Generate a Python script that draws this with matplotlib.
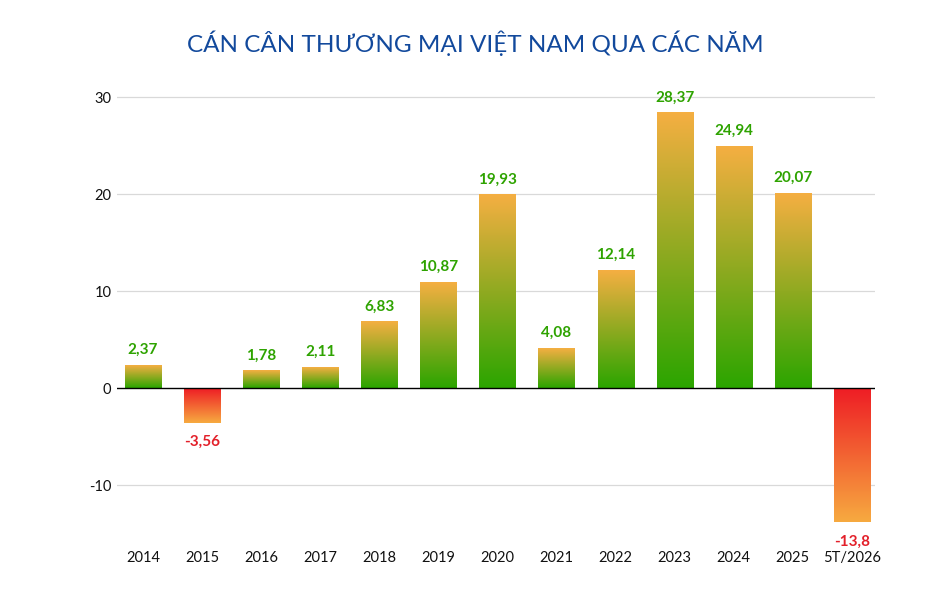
import matplotlib
matplotlib.use("Agg")
import matplotlib.pyplot as plt
import numpy as np
from matplotlib.colors import LinearSegmentedColormap

categories = ["2014", "2015", "2016", "2017", "2018", "2019", "2020", "2021",
              "2022", "2023", "2024", "2025", "5T/2026"]
values = [2.37, -3.56, 1.78, 2.11, 6.83, 10.87, 19.93, 4.08, 12.14, 28.37, 24.94, 20.07, -13.8]
labels = ["2,37", "-3,56", "1,78", "2,11", "6,83", "10,87", "19,93", "4,08",
          "12,14", "28,37", "24,94", "20,07", "-13,8"]
yticks = [-10, 0, 10, 20, 30]
title = "CÁN CÂN THƯƠNG MẠI VIỆT NAM QUA CÁC NĂM"

plt.rcParams['font.family'] = ['Lato', 'DejaVu Sans']

fig = plt.figure(figsize=(9.5, 6), dpi=100)
ax = fig.add_axes([0.123, 0.1027, 0.798, 0.7518])

x = np.arange(len(categories))
bars = ax.bar(x, values, width=0.61, color='none', edgecolor='none', zorder=2)

pos_cmap = LinearSegmentedColormap.from_list("pos", ["#2BA500", "#F5AF42"])
neg_cmap = LinearSegmentedColormap.from_list("neg", ["#F7AA40", "#EE1D25"])
grad = np.linspace(0, 1, 256).reshape(-1, 1)

for rect, v in zip(bars, values):
    x0 = rect.get_x()
    w = rect.get_width()
    if v >= 0:
        ax.imshow(grad, cmap=pos_cmap, origin='lower', aspect='auto',
                  extent=[x0, x0 + w, 0, v], zorder=2, interpolation='bilinear')
    else:
        ax.imshow(grad, cmap=neg_cmap, origin='lower', aspect='auto',
                  extent=[x0, x0 + w, v, 0], zorder=2, interpolation='bilinear')

for xi, v, lab in zip(x, values, labels):
    if v >= 0:
        ax.annotate(lab, (xi, v), xytext=(0, 6), textcoords='offset points',
                    ha='center', va='bottom', color='#2EA300', fontsize=11,
                    fontweight='bold')
    else:
        ax.annotate(lab, (xi, v), xytext=(0, -9), textcoords='offset points',
                    ha='center', va='top', color='#E3202A', fontsize=11,
                    fontweight='bold')

ax.set_xlim(-0.44, len(categories) - 1 + 0.39)
ax.set_ylim(-15.5, 31)
ax.set_yticks(yticks)
ax.set_yticklabels([str(t) for t in yticks])
ax.set_xticks(x)
ax.set_xticklabels(categories)
ax.tick_params(axis='both', length=0, labelsize=10.5, colors='#111111')
ax.tick_params(axis='x', pad=9)
ax.tick_params(axis='y', pad=4)

for t in yticks:
    if t != 0:
        ax.axhline(t, color='#D9D9D9', linewidth=0.9, zorder=0)
ax.axhline(0, color='#000000', linewidth=1.0, zorder=3)

for s in ax.spines.values():
    s.set_visible(False)

fig.text(0.5, 0.928, title, ha='center', va='center', color='#12499C',
         fontsize=17.5, fontweight='normal')

fig.savefig("out.png", dpi=100, facecolor='white')
